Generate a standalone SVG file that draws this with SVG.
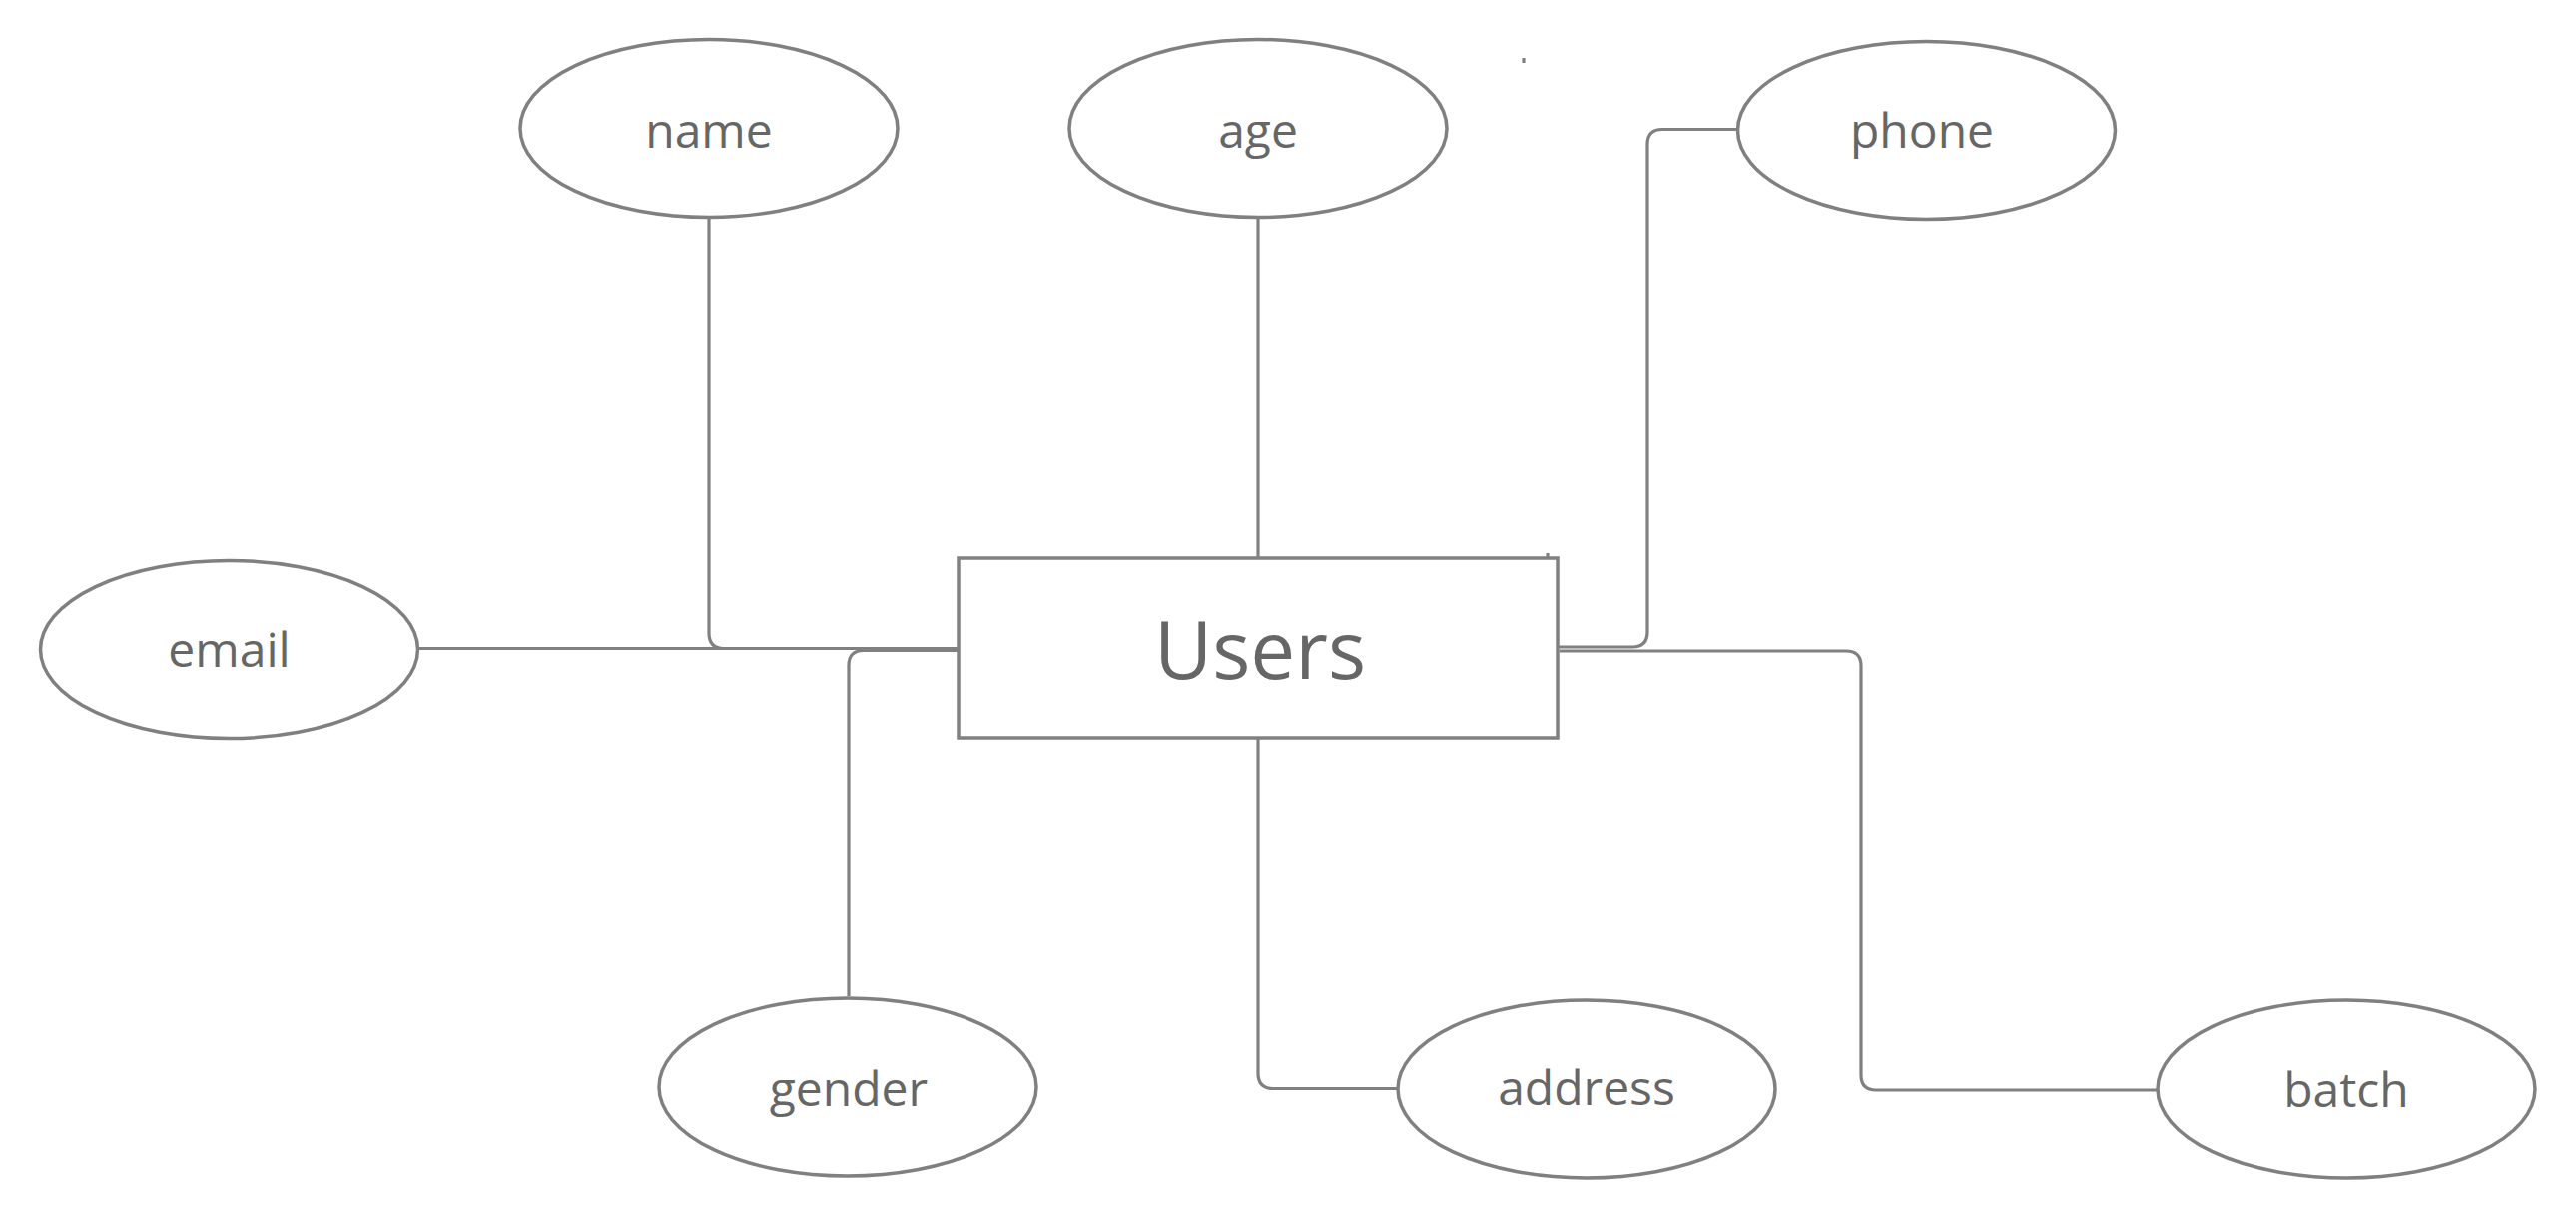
<svg xmlns="http://www.w3.org/2000/svg" width="2580" height="1221" viewBox="0 0 2580 1221">
<style>
.shape{fill:#ffffff;stroke:#808080;stroke-width:3.5}
.conn{fill:none;stroke:#808080;stroke-width:3.2}
.lbl{font-family:"Open Sans","Noto Sans","Liberation Sans",sans-serif;fill:#666666;text-anchor:middle;font-size:48px}
.title{font-size:80px}
</style>
<rect x="0" y="0" width="2580" height="1221" fill="#ffffff"/>
<g id="connectors">
<path class="conn" d="M710,219 V634 Q710,649.5 725,649.5 H960"/>
<path class="conn" d="M1260,219 V559"/>
<path class="conn" d="M1739,129.5 H1665 Q1650,129.5 1650,144.5 V633 Q1650,648 1635,648 H1561"/>
<path class="conn" d="M419,649.5 H960"/>
<path class="conn" d="M960,651.5 H865 Q850,651.5 850,666.5 V998"/>
<path class="conn" d="M1260,739 V1075 Q1260,1090.5 1275,1090.5 H1400"/>
<path class="conn" d="M1562,652 H1849 Q1864,652 1864,667 V1077 Q1864,1092 1879,1092 H2160"/>
<path class="conn" d="M1550,554 V559 M1526,58 V63" stroke-width="2"/>
</g>
<g id="users">
<rect class="shape" x="960" y="559" width="600" height="180"/>
<text class="lbl title" x="1262" y="680">Users</text>
</g>
<g id="name">
<ellipse class="shape" cx="710" cy="128.5" rx="189" ry="89"/>
<text class="lbl" x="710" y="148">name</text>
</g>
<g id="age">
<ellipse class="shape" cx="1260" cy="128.5" rx="189" ry="89"/>
<text class="lbl" x="1260" y="148">age</text>
</g>
<g id="phone">
<ellipse class="shape" cx="1929.5" cy="130.5" rx="189" ry="89"/>
<text class="lbl" x="1925" y="148">phone</text>
</g>
<g id="email">
<ellipse class="shape" cx="229.5" cy="650.5" rx="189" ry="89"/>
<text class="lbl" x="229.5" y="668">email</text>
</g>
<g id="gender">
<ellipse class="shape" cx="849" cy="1089" rx="189" ry="89"/>
<text class="lbl" x="850" y="1108">gender</text>
</g>
<g id="address">
<ellipse class="shape" cx="1589" cy="1091" rx="189" ry="89"/>
<text class="lbl" x="1589" y="1107">address</text>
</g>
<g id="batch">
<ellipse class="shape" cx="2350" cy="1091" rx="189" ry="89"/>
<text class="lbl" x="2350" y="1109">batch</text>
</g>
</svg>
